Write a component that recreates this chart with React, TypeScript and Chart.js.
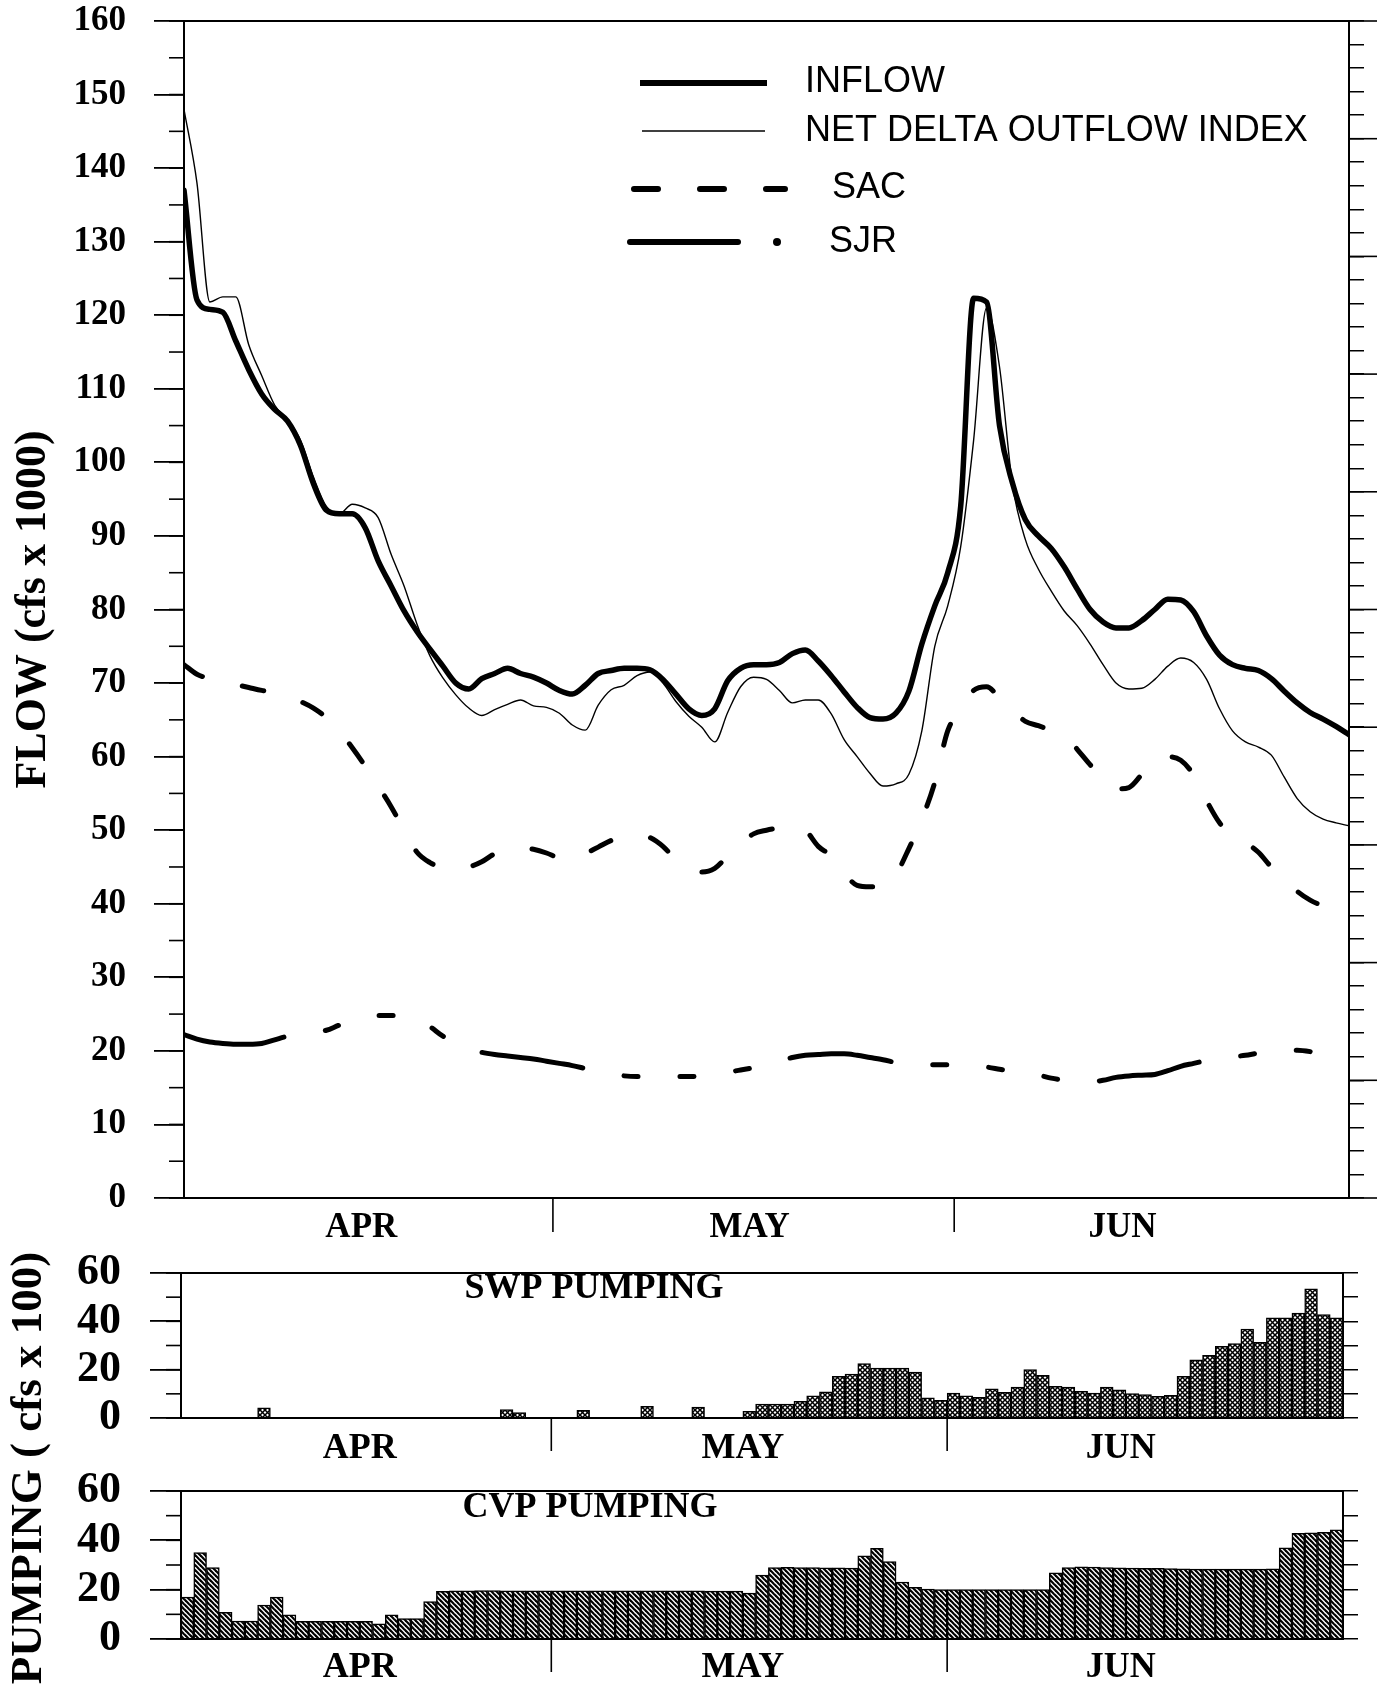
import React, { useEffect, useRef } from 'react';
import { Chart, registerables } from 'chart.js';

Chart.register(...registerables);

// ---------------- data (daily, index 0 = first day of April record) ----------------
const MONTHS = ['APR', 'MAY', 'JUN'];

const INFLOW = [
  137, 122.1, 120.8, 120.4, 116.5, 112.6, 109.3, 107.2, 105.6, 102.3,
  97.1, 93.5, 93, 93, 91.1, 86.6, 83.2, 79.8, 77, 74.6,
  72.3, 70, 69.2, 70.6, 71.3, 72, 71.3, 70.8, 70, 69,
  68.5, 69.7, 71.3, 71.7, 72, 72, 71.8, 70.5, 68.5, 66.5,
  65.6, 66.5, 70.3, 72, 72.5, 72.5, 72.8, 74, 74.5, 73,
  71, 68.8, 66.7, 65.3, 65.1, 65.9, 68.9, 75.3, 80.5, 85,
  94, 122.3, 121.8, 105, 97.2, 92.2, 90, 88.3, 85.8, 82.8,
  80, 78.3, 77.5, 77.5, 78.5, 80, 81.4, 81.3, 79.7, 76.4,
  73.8, 72.5, 72, 71.7, 70.6, 68.9, 67.3, 66, 65.1, 64.1,
  63,
];

const NDOI = [
  148, 138, 121.8, 122.5, 122.5, 116, 111.8, 107.8, 105.8, 103,
  98, 94, 93, 94.3, 93.8, 92.5, 87.5, 83.2, 78, 73.7,
  70.7, 68.4, 66.6, 65.6, 66.4, 67.1, 67.7, 66.9, 66.7, 65.9,
  64.3, 63.6, 67, 69.1, 69.7, 71, 71.5, 70, 67.5, 65.5,
  64, 62, 66, 69.5, 70.8, 70.5, 69, 67.3, 67.7, 67.7,
  65.8, 62.3, 60, 57.7, 56, 56.3, 57.6, 63.5, 75, 80.5,
  88.5, 103, 121, 113, 97, 89.5, 85.5, 82.5, 79.8, 77.8,
  75.3, 72.5, 70, 69.2, 69.3, 70.5, 72.3, 73.4, 72.8, 70.5,
  66.5, 63.5, 62, 61.3, 60.2, 57.2, 54.3, 52.5, 51.5, 51,
  50.6,
];

const SAC = [
  72.5, 71.2, 70.6, 70.2, 69.8, 69.4, 69, 68.7, 68.2, 67.5,
  66.6, 65.3, 63.5, 61.2, 58.7, 56, 53.2, 50, 47, 45.6,
  44.9, 44.8, 45, 45.7, 46.8, 47.4, 47.6, 47.4, 46.9, 46.2,
  46, 46.8, 47.7, 48.6, 49.2, 49.4, 49, 47.8, 46, 44.8,
  44.3, 44.8, 46.5, 48.2, 49.5, 50, 50.3, 50.5, 50, 47.8,
  46.5, 44.2, 42.5, 42.3, 42.3, 44, 47.5, 51.5, 56.5, 63.5,
  66.5, 69, 69.5, 68, 66.3, 64.8, 64.2, 63.6, 63, 61,
  58.9, 57, 55.6, 55.8, 57.6, 59.5, 60, 59.5, 57.5, 54,
  51, 49.2, 48.3, 47, 45, 43.5, 41.7, 40.5, 39.7, 39.1,
  38.4,
];

const SJR = [
  22.2, 21.6, 21.2, 21.0, 20.9, 20.9, 21.0, 21.5, 22.0, 22.3,
  22.6, 22.8, 23.5, 24.0, 24.5, 24.8, 24.8, 24.8, 24.3, 23.3,
  22.0, 21.1, 20.3, 19.8, 19.5, 19.3, 19.1, 18.9, 18.6, 18.3,
  18.0, 17.6, 17.2, 16.9, 16.6, 16.5, 16.5, 16.5, 16.5, 16.5,
  16.6, 16.8, 17.1, 17.4, 17.7, 18.1, 18.6, 19.1, 19.4, 19.5,
  19.6, 19.6, 19.4, 19.1, 18.8, 18.4, 18.1, 18.1, 18.1, 18.1,
  18.1, 18.0, 17.8, 17.5, 17.2, 17.0, 16.7, 16.3, 16.0, 15.8,
  15.8, 16.0, 16.4, 16.6, 16.7, 16.8, 17.3, 17.9, 18.3, 18.7,
  19.0, 19.2, 19.4, 19.7, 19.9, 20.1, 20.1, 19.9, 19.5, 19.0,
  18.7,
];

const SWP_PUMPING = [
  0, 0, 0, 0, 0, 0, 4.2, 0, 0, 0,
  0, 0, 0, 0, 0, 0, 0, 0, 0, 0,
  0, 0, 0, 0, 0, 3.5, 2.2, 0, 0, 0,
  0, 3.2, 0, 0, 0, 0, 4.8, 0, 0, 0,
  4.5, 0, 0, 0, 2.8, 5.8, 5.8, 5.8, 6.9, 9.2,
  10.8, 17.2, 18.2, 22.5, 20.7, 20.7, 20.7, 19, 8.3, 7.3,
  10.3, 9.2, 8.6, 12.1, 10.6, 12.8, 20, 17.7, 13.1, 12.8,
  11, 10.3, 12.8, 11.7, 10.1, 9.7, 9, 9.4, 17.2, 24.1,
  25.9, 29.7, 30.8, 36.8, 31.3, 41.4, 41.4, 43.4, 53.5, 42.8,
  41.4,
];

const CVP_PUMPING = [
  17, 35, 29, 10.8, 7.3, 7.3, 13.8, 17, 9.8, 7.2,
  7.2, 7.2, 7.2, 7.2, 7.2, 6.1, 9.8, 8.3, 8.3, 15.2,
  19.3, 19.5, 19.5, 19.6, 19.6, 19.5, 19.5, 19.5, 19.5, 19.5,
  19.5, 19.5, 19.5, 19.5, 19.5, 19.5, 19.5, 19.5, 19.5, 19.5,
  19.5, 19.4, 19.4, 19.4, 18.6, 25.9, 29, 29.1, 29, 29,
  28.9, 28.9, 28.8, 33.7, 36.8, 31.4, 23.1, 20.9, 20.2, 20,
  20, 20, 20, 20, 20, 20, 20, 20, 26.8, 29,
  29.3, 29.2, 29, 28.9, 28.8, 28.7, 28.6, 28.5, 28.4, 28.3,
  28.3, 28.3, 28.3, 28.3, 28.3, 28.4, 37, 42.8, 43, 43.2,
  44.3,
];

// month boundaries (start of MAY, start of JUN) and month-label positions, in day units
const MONTH_STARTS = [29, 60];
const FLOW_MONTH_LABEL_AT = [13.7, 43.7, 72.5];
const PUMP_MONTH_LABEL_AT = [14, 44, 73.6];

// ---------------- layout ----------------
const W = 1381;
const H = 1685;
const SERIF = '"Liberation Serif", "Times New Roman", serif';
const SANS = '"Liberation Sans", Arial, sans-serif';

const decorPlugin = {
  id: 'decor',
  afterDraw(chart: any, _args: any, opts: any) {
    const { ctx, chartArea: area } = chart;
    ctx.save();
    ctx.strokeStyle = '#000';
    ctx.fillStyle = '#000';
    ctx.lineCap = 'butt';
    if (opts.frameTop) {
      ctx.lineWidth = 2;
      ctx.beginPath();
      ctx.moveTo(area.left - 1, area.top);
      ctx.lineTo(area.right + 1, area.top);
      ctx.stroke();
    }
    (opts.extraTicks || []).forEach((t: any) => {
      const sc = chart.scales[t.axis];
      const n = Math.round((sc.max - sc.min) / t.step);
      ctx.lineWidth = t.width;
      for (let k = 0; k <= n; k++) {
        const y = sc.getPixelForValue(sc.min + k * t.step);
        const x0 = t.side === 'left' ? sc.right : sc.left;
        const x1 = t.side === 'left' ? x0 - t.len : x0 + t.len;
        ctx.beginPath();
        ctx.moveTo(x0, y);
        ctx.lineTo(x1, y);
        ctx.stroke();
      }
    });
    if (opts.dividers) {
      const sx = chart.scales.x;
      ctx.lineWidth = 1.6;
      opts.dividers.at.forEach((d: number) => {
        const x = sx.getPixelForValue(d);
        ctx.beginPath();
        ctx.moveTo(x, area.bottom);
        ctx.lineTo(x, area.bottom + opts.dividers.len);
        ctx.stroke();
      });
    }
    (opts.legend || []).forEach((item: any) => {
      const ds = chart.data.datasets[item.dataset];
      ctx.lineWidth = item.width;
      ctx.lineCap = item.cap || 'butt';
      ctx.setLineDash(item.dash || []);
      ctx.beginPath();
      ctx.moveTo(item.x0, item.y);
      ctx.lineTo(item.x1, item.y);
      ctx.stroke();
      ctx.setLineDash([]);
      if (item.dotX) {
        ctx.beginPath();
        ctx.arc(item.dotX, item.y, 4, 0, Math.PI * 2);
        ctx.fill();
      }
      ctx.font = `36px ${SANS}`;
      ctx.textAlign = 'left';
      ctx.textBaseline = 'middle';
      ctx.fillText(ds.label, item.textX, item.textY);
    });
    (opts.texts || []).forEach((t: any) => {
      ctx.save();
      ctx.translate(t.x, t.y);
      if (t.rotate) ctx.rotate(t.rotate);
      ctx.font = t.font;
      ctx.textAlign = 'center';
      ctx.textBaseline = 'middle';
      ctx.fillText(t.text, 0, 0);
      ctx.restore();
    });
    ctx.restore();
  },
};

// fix an axis box size and drop the automatic label padding it asks for
const fixWidth = (w: number) => (s: any) => {
  s.width = w;
  s.paddingTop = 0;
  s.paddingBottom = 0;
};
const fixHeight = (h: number) => (s: any) => {
  s.height = h;
  s.paddingLeft = 0;
  s.paddingRight = 0;
};

function mainConfig(): any {
  const line = (label: string, values: number[], width: number, dash?: number[]) => ({
    label,
    data: values.map((y, i) => ({ x: i, y })),
    borderColor: '#000',
    backgroundColor: '#000',
    borderWidth: width,
    borderDash: dash || [],
    borderCapStyle: 'round',
    borderJoinStyle: 'round',
    pointRadius: 0,
    fill: false,
    cubicInterpolationMode: 'monotone',
  });
  return {
    type: 'line',
    data: {
      datasets: [
        line('INFLOW', INFLOW, 5.5),
        line('NET DELTA OUTFLOW INDEX', NDOI, 1.4),
        line('SAC', SAC, 5, [22, 41]),
        line('SJR', SJR, 5, [102, 42, 14, 42, 14, 42, 14, 42]),
      ],
    },
    options: {
      responsive: false,
      animation: false,
      events: [],
      layout: { autoPadding: false, padding: { left: 0, right: 0, top: 21, bottom: H - 1198 - 50 } },
      plugins: {
        legend: { display: false },
        tooltip: { enabled: false },
        decor: {
          frameTop: true,
          extraTicks: [
            { axis: 'y', step: 5, len: 15, side: 'left', width: 1.6 },
            { axis: 'yR', step: 1, len: 28, side: 'right', width: 1.6 },
          ],
          dividers: { at: MONTH_STARTS.map((d) => d - 0.5), len: 34 },
          legend: [
            { dataset: 0, x0: 640, x1: 767, y: 83, width: 6, textX: 805, textY: 82 },
            { dataset: 1, x0: 642, x1: 765, y: 131, width: 1.5, textX: 805, textY: 131 },
            { dataset: 2, x0: 634, x1: 785, y: 189, width: 6, cap: 'round', dash: [24, 42], textX: 832, textY: 188 },
            { dataset: 3, x0: 630, x1: 738, y: 242, width: 6, cap: 'round', dotX: 777, textX: 829, textY: 242 },
          ],
        },
      },
      scales: {
        x: {
          type: 'linear',
          min: 0,
          max: 90,
          afterBuildTicks: (s: any) => {
            s.ticks = FLOW_MONTH_LABEL_AT.map((v) => ({ value: v }));
          },
          afterFit: fixHeight(50),
          ticks: {
            callback: (_v: any, i: number) => MONTHS[i],
            font: { family: SERIF, size: 35, weight: 'bold' },
            color: '#000',
            padding: 9,
            maxRotation: 0,
            autoSkip: false,
          },
          grid: { display: false, drawTicks: false },
          border: { display: true, color: '#000', width: 2 },
        },
        y: {
          position: 'left',
          min: 0,
          max: 160,
          ticks: {
            stepSize: 10,
            autoSkip: false,
            font: { family: SERIF, size: 35, weight: 'bold' },
            color: '#000',
            padding: 28,
          },
          grid: { drawOnChartArea: false, tickLength: 30, color: '#000', lineWidth: 1.8 },
          border: { display: true, color: '#000', width: 2 },
          title: {
            display: true,
            text: 'FLOW (cfs x 1000)',
            font: { family: SERIF, size: 44, weight: 'bold' },
            color: '#000',
            padding: { top: 7, bottom: 0 },
          },
          afterFit: fixWidth(184),
        },
        yR: {
          position: 'right',
          min: 0,
          max: 10,
          ticks: { display: false, stepSize: 0.2 },
          grid: { drawOnChartArea: false, tickLength: 15, color: '#000', lineWidth: 1.5 },
          border: { display: true, color: '#000', width: 2 },
          afterFit: fixWidth(W - 1349),
        },
      },
    },
    plugins: [decorPlugin],
  };
}

function pumpConfig(
  label: string,
  values: number[],
  pattern: any,
  top: number,
  bottom: number,
  xHeight: number,
  labelPad: number,
  texts: any[],
): any {
  return {
    type: 'bar',
    data: {
      datasets: [
        {
          label,
          data: values.map((y, i) => ({ x: i + 0.5, y })),
          backgroundColor: pattern,
          borderColor: '#000',
          borderWidth: 1.5,
          barPercentage: 1,
          categoryPercentage: 1,
        },
      ],
    },
    options: {
      responsive: false,
      animation: false,
      events: [],
      layout: { autoPadding: false, padding: { left: 0, right: 0, top, bottom: H - bottom - xHeight } },
      plugins: {
        legend: { display: false },
        tooltip: { enabled: false },
        decor: {
          frameTop: true,
          extraTicks: [{ axis: 'y', step: 10, len: 15, side: 'left', width: 1.6 }],
          dividers: { at: MONTH_STARTS, len: 33 },
          texts,
        },
      },
      scales: {
        x: {
          type: 'linear',
          min: 0,
          max: 91,
          offset: false,
          afterBuildTicks: (s: any) => {
            s.ticks = PUMP_MONTH_LABEL_AT.map((v) => ({ value: v }));
          },
          afterFit: fixHeight(xHeight),
          ticks: {
            callback: (_v: any, i: number) => MONTHS[i],
            font: { family: SERIF, size: 36, weight: 'bold' },
            color: '#000',
            padding: labelPad,
            maxRotation: 0,
            autoSkip: false,
          },
          grid: { display: false, drawTicks: false, offset: false },
          border: { display: true, color: '#000', width: 2 },
        },
        y: {
          position: 'left',
          min: 0,
          max: 60,
          ticks: {
            stepSize: 20,
            autoSkip: false,
            font: { family: SERIF, size: 44, weight: 'bold' },
            color: '#000',
            padding: 29,
          },
          grid: { drawOnChartArea: false, tickLength: 31, color: '#000', lineWidth: 1.8 },
          border: { display: true, color: '#000', width: 2 },
          afterFit: fixWidth(181),
        },
        yR: {
          position: 'right',
          min: 0,
          max: 60,
          ticks: { display: false, stepSize: 10 },
          grid: { drawOnChartArea: false, tickLength: 15, color: '#000', lineWidth: 1.5 },
          border: { display: true, color: '#000', width: 2 },
          afterFit: fixWidth(W - 1343),
        },
      },
    },
    plugins: [decorPlugin],
  };
}

function makePattern(kind: 'cross' | 'diag'): any {
  const c = document.createElement('canvas');
  const size = 5;
  c.width = size;
  c.height = size;
  const g = c.getContext('2d')!;
  g.fillStyle = '#fff';
  g.fillRect(0, 0, size, size);
  g.strokeStyle = '#000';
  g.lineWidth = kind === 'cross' ? 1.5 : 2.2;
  for (const dx of [-size, 0, size]) {
    g.beginPath();
    g.moveTo(dx - 1, -1);
    g.lineTo(dx + size + 1, size + 1);
    g.stroke();
    if (kind === 'cross') {
      g.beginPath();
      g.moveTo(dx - 1, size + 1);
      g.lineTo(dx + size + 1, -1);
      g.stroke();
    }
  }
  const p = document.createElement('canvas').getContext('2d')!.createPattern(c, 'repeat');
  return p;
}

export default function App() {
  const mainRef = useRef<HTMLCanvasElement>(null);
  const swpRef = useRef<HTMLCanvasElement>(null);
  const cvpRef = useRef<HTMLCanvasElement>(null);

  useEffect(() => {
    const swpPattern = makePattern('cross');
    const cvpPattern = makePattern('diag');
    const titleFont = `bold 36px ${SERIF}`;
    const charts = [
      new Chart(mainRef.current!, mainConfig()),
      new Chart(
        swpRef.current!,
        pumpConfig('SWP PUMPING', SWP_PUMPING, swpPattern, 1273, 1418, 50, 9, [
          { text: 'SWP PUMPING', x: 594, y: 1289, font: titleFont },
        ]),
      ),
      new Chart(
        cvpRef.current!,
        pumpConfig('CVP PUMPING', CVP_PUMPING, cvpPattern, 1491, 1639, H - 1639, 7, [
          { text: 'CVP PUMPING', x: 590, y: 1508, font: titleFont },
          { text: 'PUMPING ( cfs x 100)', x: 29, y: 1468, font: `bold 45px ${SERIF}`, rotate: -Math.PI / 2 },
        ]),
      ),
    ];
    return () => charts.forEach((c) => c.destroy());
  }, []);

  const cs: React.CSSProperties = { position: 'absolute', left: 0, top: 0, width: W, height: H };
  return (
    <div style={{ position: 'absolute', left: 0, top: 0, width: W, height: H, background: '#fff', overflow: 'hidden' }}>
      <canvas ref={mainRef} width={W} height={H} style={cs} />
      <canvas ref={swpRef} width={W} height={H} style={cs} />
      <canvas ref={cvpRef} width={W} height={H} style={cs} />
    </div>
  );
}
